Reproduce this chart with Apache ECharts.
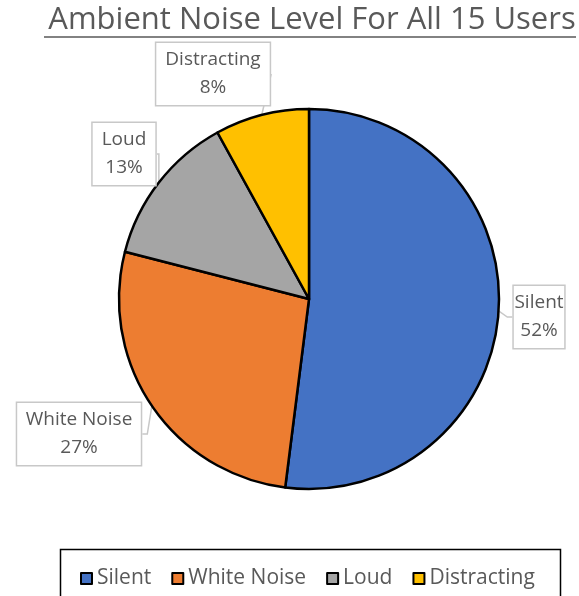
<!DOCTYPE html>
<html><head><meta charset="utf-8">
<script src="https://cdn.jsdelivr.net/npm/echarts@6/dist/echarts.min.js"></script>
<style>html,body{margin:0;padding:0;background:#fff}#c{width:579px;height:596px}</style>
</head><body><div id="c"></div>
<script>
var titleText = 'Ambient Noise Level For All 15 Users';
var categories = ['Silent', 'White Noise', 'Loud', 'Distracting'];
var values = [52, 27, 13, 8];
var colors = ['#4472C4', '#ED7D31', '#A5A5A5', '#FFC000'];
var labelPos = [[539, 317], [79, 434], [124, 154], [213, 74]];
var FONT = '"Open Sans", sans-serif';

var chart = echarts.init(document.getElementById('c'));
chart.setOption({
  animation: false,
  title: {
    text: titleText, left: 307, textAlign: 'center', top: 0,
    textStyle: {fontFamily: FONT, fontSize: 31, fontWeight: 'normal', color: '#595959'}
  },
  graphic: [
    {type: 'line', shape: {x1: 44, y1: 37, x2: 576, y2: 37}, style: {stroke: '#595959', lineWidth: 1.5}},
    {type: 'rect', shape: {x: 60.5, y: 549.5, width: 500, height: 60}, style: {fill: 'none', stroke: '#000', lineWidth: 1.5}}
  ],
  legend: {
    bottom: 7, left: 80,
    icon: 'rect', itemWidth: 11, itemHeight: 11, itemGap: 20, padding: 0,
    textStyle: {fontFamily: FONT, fontSize: 21, color: '#595959'},
    itemStyle: {borderColor: '#000', borderWidth: 2},
    data: categories
  },
  series: [{
    type: 'pie',
    center: [309, 299],
    radius: [0, 190],
    startAngle: 90,
    clockwise: true,
    color: colors,
    itemStyle: {borderColor: '#000', borderWidth: 2.5},
    label: {
      show: true, position: 'outside', overflow: 'none',
      formatter: function (p) { return p.name + '\n' + p.value + '%'; },
      fontFamily: FONT, fontSize: 19, lineHeight: 28, color: '#595959',
      backgroundColor: '#fff', borderColor: '#c8c8c8', borderWidth: 1.5,
      padding: [3, 9, 3, 9], align: 'center'
    },
    labelLine: {show: true, length: 10, length2: 5, lineStyle: {color: '#c8c8c8', width: 1.5}},
    labelLayout: function (p) {
      var pos = labelPos[p.dataIndex];
      return {x: pos[0], y: pos[1], align: 'center', verticalAlign: 'middle'};
    },
    emphasis: {disabled: true},
    data: categories.map(function (c, i) { return {name: c, value: values[i]}; })
  }]
});
</script></body></html>
